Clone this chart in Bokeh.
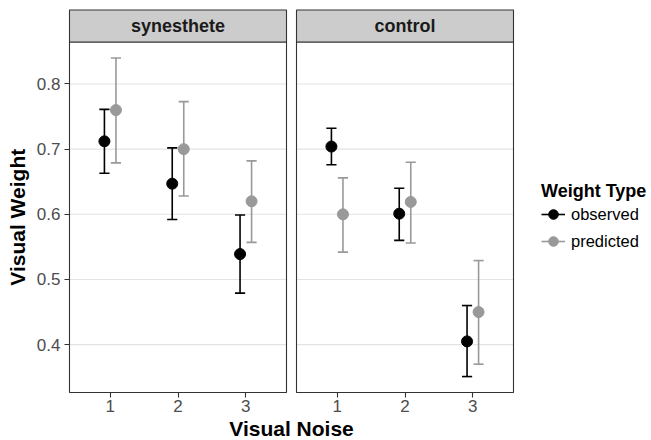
from bokeh.plotting import figure
from bokeh.models import (ColumnDataSource, Range1d, FixedTicker, Legend, LegendItem, Label)
from bokeh.core.properties import value
from bokeh.embed import file_html
from bokeh.resources import INLINE
import math

# ---------------- data ----------------
groups = ["synesthete", "control"]
noise = [1, 2, 3]
series = ["observed", "predicted"]

syn_obs = [0.712, 0.647, 0.539]
syn_obs_lo = [0.663, 0.592, 0.479]
syn_obs_hi = [0.761, 0.702, 0.599]

syn_pred = [0.760, 0.700, 0.620]
syn_pred_lo = [0.679, 0.628, 0.557]
syn_pred_hi = [0.840, 0.773, 0.682]

ctl_obs = [0.704, 0.601, 0.405]
ctl_obs_lo = [0.676, 0.560, 0.351]
ctl_obs_hi = [0.732, 0.640, 0.460]

ctl_pred = [0.600, 0.619, 0.450]
ctl_pred_lo = [0.542, 0.556, 0.370]
ctl_pred_hi = [0.656, 0.680, 0.529]

y_ticks = [0.4, 0.5, 0.6, 0.7, 0.8]
y_tick_labels = ["0.4", "0.5", "0.6", "0.7", "0.8"]
x_tick_labels = ["1", "2", "3"]

# ---------------- layout constants (pixels) ----------------
FONT = "Liberation Sans"
W, H = 651, 440
PANEL_LEFT_PX = 69.0     # left edge of first panel
PANEL_BOTTOM_PX = 392.0  # bottom edge of panels (from top)
PANEL_W = 217.0
GAP_W = 10.0
PANEL_H = 350.5
STRIP_H = 32.0
YTITLE_X_PX = 16.5
XTITLE_Y_PX = 427.5
LEGEND_LEFT_PX = 541.0
LEGEND_BOTTOM_PX = 253.0
DODGE = 0.085
CAP = 0.075
OBS_COL = "#000000"
PRED_COL = "#999999"

x_lo_panel, x_hi_panel = 0.4, 3.6
units_per_panel = x_hi_panel - x_lo_panel
pxu_x = PANEL_W / units_per_panel
gap_u = GAP_W / pxu_x
offsets = [0.0, units_per_panel + gap_u]

all_lo = syn_obs_lo + syn_pred_lo + ctl_obs_lo + ctl_pred_lo
all_hi = syn_obs_hi + syn_pred_hi + ctl_obs_hi + ctl_pred_hi
dlo, dhi = min(all_lo), max(all_hi)
pad = 0.05 * (dhi - dlo)
ylo, yhi = dlo - pad, dhi + pad
pxu_y = PANEL_H / (yhi - ylo)
strip_top = yhi + STRIP_H / pxu_y

# the frame covers the whole canvas
x_start = x_lo_panel - PANEL_LEFT_PX / pxu_x
x_end = x_start + W / pxu_x
y_start = ylo - (H - PANEL_BOTTOM_PX) / pxu_y
y_end = ylo + PANEL_BOTTOM_PX / pxu_y

p = figure(width=W, height=H, output_backend="svg", toolbar_location=None,
           x_range=Range1d(x_start, x_end), y_range=Range1d(y_start, y_end),
           min_border=0)
p.outline_line_color = None
p.background_fill_color = "white"
p.border_fill_color = "white"
p.xgrid.visible = False
p.ygrid.visible = False

# panels: grid lines, borders, strips
panel_left = [x_lo_panel + o for o in offsets]
panel_right = [x_hi_panel + o for o in offsets]

gx0, gx1, gy = [], [], []
for l, r in zip(panel_left, panel_right):
    for t in y_ticks:
        gx0.append(l); gx1.append(r); gy.append(t)
p.segment(x0=gx0, y0=gy, x1=gx1, y1=gy, line_color="#e3e3e3", line_width=1.1)

p.quad(left=panel_left, right=panel_right, bottom=[ylo] * 2, top=[yhi] * 2,
       fill_color=None, line_color="#333333", line_width=1.1)
p.quad(left=panel_left, right=panel_right, bottom=[yhi] * 2, top=[strip_top] * 2,
       fill_color="#cccccc", line_color="#333333", line_width=1.1)
p.text(x=[(l + r) / 2 for l, r in zip(panel_left, panel_right)],
       y=[(yhi + strip_top) / 2] * 2, text=groups,
       text_font=value(FONT), text_font_size="18px", text_font_style="bold",
       text_color="#1a1a1a", text_align="center", text_baseline="middle")


def make_source(vals_by_group, lo_by_group, hi_by_group, shift):
    xs, ys, los, his = [], [], [], []
    for gi, (v, lo, hi) in enumerate(zip(vals_by_group, lo_by_group, hi_by_group)):
        for n, a, b, c in zip(noise, v, lo, hi):
            x = n + offsets[gi] + shift
            xs.append(x); ys.append(a); los.append(b); his.append(c)
    return ColumnDataSource(dict(x=xs, y=ys, lo=los, hi=his,
                                 cl=[x - CAP for x in xs], cr=[x + CAP for x in xs]))


src_obs = make_source([syn_obs, ctl_obs], [syn_obs_lo, ctl_obs_lo], [syn_obs_hi, ctl_obs_hi], -DODGE)
src_pred = make_source([syn_pred, ctl_pred], [syn_pred_lo, ctl_pred_lo], [syn_pred_hi, ctl_pred_hi], DODGE)

items = []
for name, src, col in [("observed", src_obs, OBS_COL), ("predicted", src_pred, PRED_COL)]:
    stem = p.segment(x0="x", y0="lo", x1="x", y1="hi", source=src, line_color=col, line_width=1.6)
    p.segment(x0="cl", y0="lo", x1="cr", y1="lo", source=src, line_color=col, line_width=1.6)
    p.segment(x0="cl", y0="hi", x1="cr", y1="hi", source=src, line_color=col, line_width=1.6)
    sc = p.scatter(x="x", y="y", source=src, size=11, marker="circle",
                   fill_color=col, line_color=col)
    items.append(LegendItem(label=name, renderers=[stem, sc]))

# axes, pinned to the panel edges
tick_pos = [n + o for o in offsets for n in noise]
p.xaxis.ticker = FixedTicker(ticks=tick_pos)
p.xaxis.major_label_overrides = {t: x_tick_labels[i % 3] for i, t in enumerate(tick_pos)}
p.xaxis.fixed_location = ylo
p.yaxis.ticker = FixedTicker(ticks=y_ticks)
p.yaxis.major_label_overrides = dict(zip(y_ticks, y_tick_labels))
p.yaxis.fixed_location = x_lo_panel
for ax in [p.xaxis[0], p.yaxis[0]]:
    ax.axis_line_color = None
    ax.major_tick_line_color = "#333333"
    ax.major_tick_line_width = 1.1
    ax.major_tick_out = 5
    ax.major_tick_in = 0
    ax.minor_tick_line_color = None
    ax.major_label_text_font = FONT
    ax.major_label_text_font_size = "17px"
    ax.major_label_text_color = "#4d4d4d"
p.xaxis.major_label_standoff = 2
p.yaxis.major_label_standoff = 4

# axis titles
p.add_layout(Label(x=x_start + YTITLE_X_PX / pxu_x, y=(ylo + yhi) / 2, text="Visual Weight",
                   angle=math.pi / 2, text_font=FONT, text_font_size="21px",
                   text_font_style="bold", text_color="black",
                   text_align="center", text_baseline="middle"))
p.add_layout(Label(x=(panel_left[0] + panel_right[1]) / 2,
                   y=ylo - (XTITLE_Y_PX - PANEL_BOTTOM_PX) / pxu_y, text="Visual Noise",
                   text_font=FONT, text_font_size="21px", text_font_style="bold",
                   text_color="black", text_align="center", text_baseline="middle"))

legend = Legend(items=items, title="Weight Type",
                location=(LEGEND_LEFT_PX, H - LEGEND_BOTTOM_PX),
                title_text_font=FONT, title_text_font_size="18px", title_text_font_style="bold",
                title_text_color="black", title_standoff=0,
                label_text_font=FONT, label_text_font_size="16.5px", label_text_color="black",
                glyph_width=24, glyph_height=24, label_height=24, label_standoff=6,
                spacing=3, padding=0, margin=0,
                border_line_color=None, background_fill_alpha=0)
p.add_layout(legend, "center")

open("out.html", "w").write(file_html(p, INLINE))
